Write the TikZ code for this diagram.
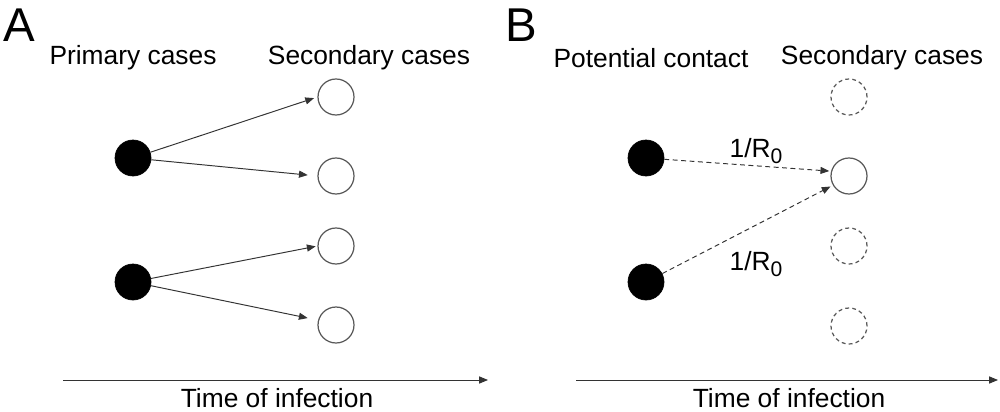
\documentclass[tikz,border=0pt]{standalone}
\usepackage{fontspec}
\setmainfont{Liberation Sans}
\usetikzlibrary{arrows.meta}

\newcommand{\rnought}{1/R\raisebox{-0.4ex}{\fontsize{12}{13}\selectfont 0}}

\begin{document}
\begin{tikzpicture}[x=0.02cm, y=-0.02cm,
    primary/.style={circle, fill=black, draw=black, minimum size=0.72cm, inner sep=0pt},
    secondary/.style={circle, draw=black!65, line width=0.7pt, minimum size=0.72cm, inner sep=0pt},
    potential/.style={secondary, dashed, dash pattern=on 2.2pt off 1.8pt},
    link/.style={draw=black!80, line width=0.55pt, -{Triangle[length=5pt, width=4pt]}},
    label/.style={font=\fontsize{15}{17}\selectfont, inner sep=0pt},
    panel/.style={font=\fontsize{27}{29}\selectfont, inner sep=0pt}]
\useasboundingbox (0, 0) rectangle (1000, 412);

% panel A
\node[panel] (pa) at (19, 25) {A};
\node[label] (hprim) at (133, 58) {Primary cases};
\node[label] (hseca) at (369, 58) {Secondary cases};
\node[primary] (p1) at (133, 158) {};
\node[primary] (p2) at (133, 282) {};
\node[secondary] (s1) at (336, 97) {};
\node[secondary] (s2) at (336, 176) {};
\node[secondary] (s3) at (336, 246) {};
\node[secondary] (s4) at (336, 325) {};
\draw[link, shorten >=2pt] (p1) -- (s1.west);
\draw[link, shorten >=5.5pt] (p1) -- (s2.west);
\draw[link, shorten >=1pt] (p2) -- (s3.west);
\draw[link, shorten >=6pt] (p2) -- (s4.165);
\coordinate (ta0) at (63, 380);
\coordinate (ta1) at (488, 380);
\draw[link] (ta0) -- (ta1);
\node[label] (tima) at (277, 398) {Time of infection};

% panel B
\node[panel] (pb) at (521, 25) {B};
\node[label] (hpot) at (651, 58) {Potential contact};
\node[label] (hsecb) at (882, 58) {Secondary cases};
\node[primary] (c1) at (646, 158) {};
\node[primary] (c2) at (646, 282) {};
\node[potential] (d1) at (849, 97) {};
\node[secondary] (d2) at (849, 176) {};
\node[potential] (d3) at (849, 246) {};
\node[potential] (d4) at (849, 326) {};
\draw[link, dashed, dash pattern=on 2.8pt off 2pt, shorten >=1pt] (c1) -- (d2.165);
\draw[link, dashed, dash pattern=on 2.8pt off 2pt, shorten >=1.5pt] (c2) -- (d2.210);
\node[label] (r1) at (756, 151) {\rnought};
\node[label] (r2) at (756, 264) {\rnought};
\coordinate (tb0) at (576, 380);
\coordinate (tb1) at (998, 380);
\draw[link] (tb0) -- (tb1);
\node[label] (timb) at (789, 398) {Time of infection};
\end{tikzpicture}
\end{document}
